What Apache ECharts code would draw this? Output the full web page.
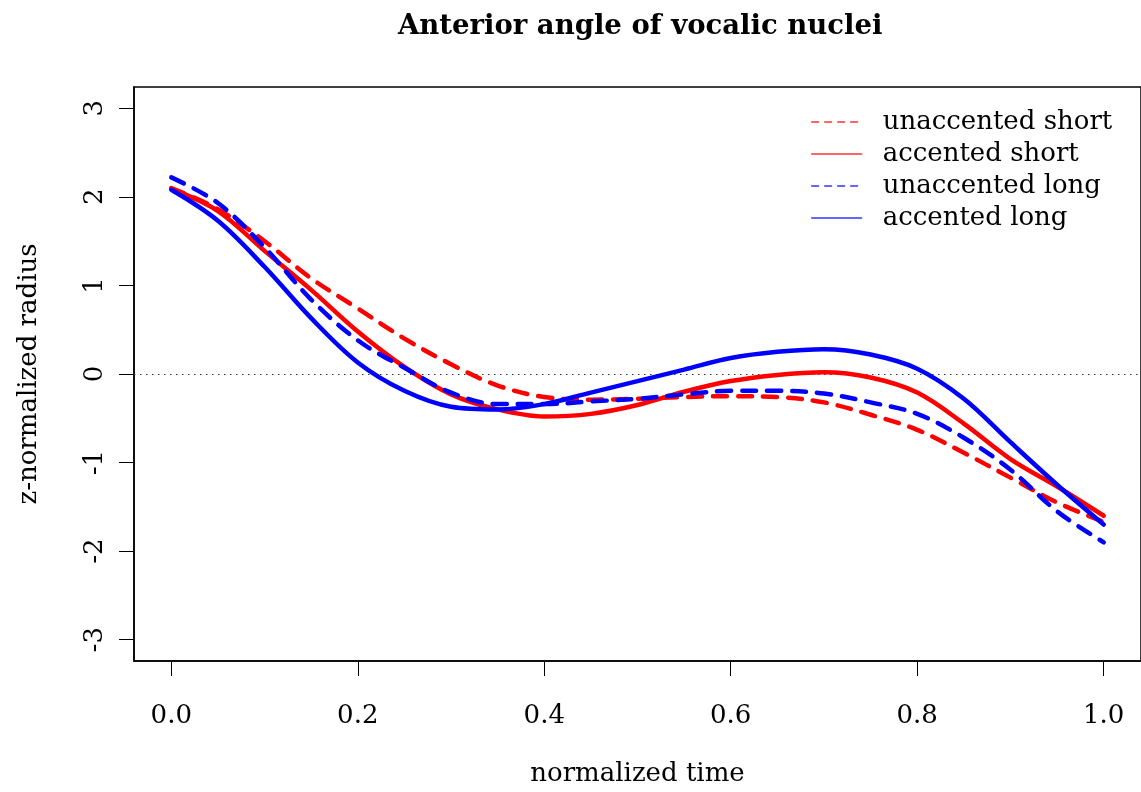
<!DOCTYPE html>
<html>
<head>
<meta charset="utf-8">
<script src="https://cdn.jsdelivr.net/npm/echarts@6/dist/echarts.min.js"></script>
<style>
html,body{margin:0;padding:0;background:#fff;}
#chart{width:1141px;height:792px;}
</style>
</head>
<body>
<div id="chart"></div>
<script>
// normalized time sample points
var timePoints = [0, 0.05, 0.1, 0.15, 0.2, 0.25, 0.3, 0.35, 0.4, 0.45, 0.5, 0.55, 0.6, 0.65, 0.7, 0.75, 0.8, 0.85, 0.9, 0.95, 1.0];
// z-normalized radius
var unaccentedShort = [2.10, 1.86, 1.50, 1.08, 0.74, 0.40, 0.11, -0.13, -0.26, -0.29, -0.28, -0.26, -0.25, -0.26, -0.32, -0.46, -0.63, -0.89, -1.17, -1.45, -1.67];
var accentedShort   = [2.09, 1.84, 1.39, 0.95, 0.48, 0.08, -0.23, -0.40, -0.48, -0.45, -0.35, -0.20, -0.08, -0.01, 0.02, -0.04, -0.21, -0.56, -0.96, -1.27, -1.60];
var unaccentedLong  = [2.22, 1.93, 1.43, 0.84, 0.38, 0.07, -0.21, -0.34, -0.34, -0.31, -0.28, -0.23, -0.19, -0.19, -0.22, -0.32, -0.45, -0.72, -1.08, -1.55, -1.90];
var accentedLong    = [2.08, 1.73, 1.21, 0.63, 0.13, -0.19, -0.37, -0.40, -0.34, -0.21, -0.08, 0.05, 0.18, 0.25, 0.28, 0.22, 0.06, -0.28, -0.77, -1.25, -1.70];
var xTicks = [0, 0.2, 0.4, 0.6, 0.8, 1.0];
var yTicks = [-3, -2, -1, 0, 1, 2, 3];
var seriesNames = ['unaccented short', 'accented short', 'unaccented long', 'accented long'];

function pairs(vals) { return timePoints.map(function (t, i) { return [t, vals[i]]; }); }

var FONT = 'DejaVu Serif';
var dashed = [14, 11];

function mk(name, vals, color, dash, extra) {
  var s = {
    name: name, type: 'line', data: pairs(vals), smooth: 0.35, symbol: 'none',
    lineStyle: { color: color, width: 4.5, type: dash, cap: 'round', join: 'round' },
    itemStyle: { color: color },
    silent: true, z: 3
  };
  if (extra) for (var k in extra) s[k] = extra[k];
  return s;
}

function legendItem(name, color, dash) {
  return { name: name, itemStyle: { opacity: 0 }, lineStyle: { width: 1.3, type: dash, color: color } };
}

var chart = echarts.init(document.getElementById('chart'), null, { renderer: 'canvas' });
chart.setOption({
  animation: false,
  backgroundColor: '#fff',
  title: {
    text: 'Anterior angle of vocalic nuclei',
    left: 393, top: 8,
    textStyle: { fontFamily: FONT, fontWeight: 'bold', fontSize: 27.5, color: '#000' }
  },
  legend: {
    orient: 'vertical', left: 806, top: 104,
    itemWidth: 50, itemHeight: 26, itemGap: 6,
    itemStyle: { opacity: 0 },
    textStyle: { fontFamily: FONT, fontSize: 26, color: '#000', padding: [0, 0, 0, 16], lineHeight: 26 },
    data: [
      legendItem(seriesNames[0], '#ff3333', [7, 6]),
      legendItem(seriesNames[1], '#ff3333', 'solid'),
      legendItem(seriesNames[2], '#3333ff', [7, 6]),
      legendItem(seriesNames[3], '#3333ff', 'solid')
    ],
    selectedMode: false
  },
  grid: { left: 134, right: -3, top: 87, bottom: 129, show: true, borderColor: '#000', borderWidth: 1.5, backgroundColor: 'transparent' },
  xAxis: {
    type: 'value', min: -0.04, max: 1.04,
    name: 'normalized time', nameLocation: 'middle', nameGap: 100,
    nameTextStyle: { fontFamily: FONT, fontSize: 26, color: '#000' },
    axisLine: { show: true, onZero: false, lineStyle: { color: '#000', width: 1.5 } },
    axisTick: { show: true, length: 15, lineStyle: { color: '#000', width: 1 }, customValues: xTicks },
    axisLabel: { fontFamily: FONT, fontSize: 26, color: '#000', margin: 42, customValues: xTicks,
      formatter: function (v) { return v.toFixed(1); } },
    splitLine: { show: false }
  },
  yAxis: {
    type: 'value', min: -3.24, max: 3.24,
    name: 'z-normalized radius', nameLocation: 'middle', nameGap: 92, nameRotate: 90,
    nameTextStyle: { fontFamily: FONT, fontSize: 26, color: '#000' },
    axisLine: { show: true, onZero: false, lineStyle: { color: '#000', width: 1.5 } },
    axisTick: { show: true, length: 15, lineStyle: { color: '#000', width: 1 }, customValues: yTicks },
    axisLabel: { fontFamily: FONT, fontSize: 26, color: '#000', margin: 26, rotate: 90, customValues: yTicks,
      formatter: function (v) { return String(v); } },
    splitLine: { show: false }
  },
  series: [
    mk(seriesNames[0], unaccentedShort, '#ff0000', dashed, {
      markLine: {
        silent: true, symbol: 'none', label: { show: false },
        lineStyle: { color: '#333', width: 1, type: [1.5, 4.5] },
        data: [{ yAxis: 0 }], z: 1
      }
    }),
    mk(seriesNames[1], accentedShort, '#ff0000', 'solid'),
    mk(seriesNames[2], unaccentedLong, '#0000ff', dashed),
    mk(seriesNames[3], accentedLong, '#0000ff', 'solid')
  ]
});
</script>
</body>
</html>
